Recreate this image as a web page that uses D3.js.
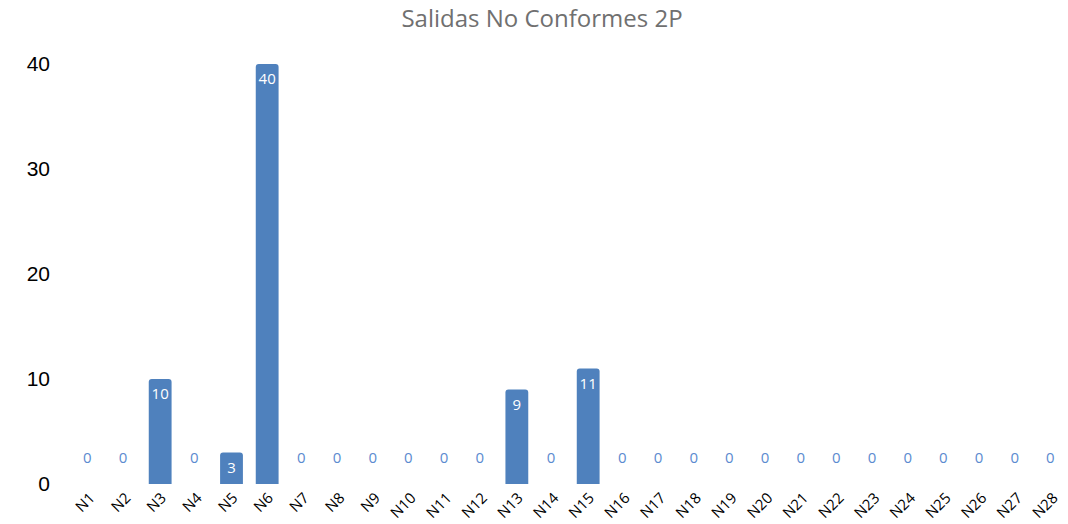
<!DOCTYPE html>
<html>
<head>
<meta charset="utf-8">
<script src="https://cdn.jsdelivr.net/npm/d3@7"></script>
<style>
  body { margin: 0; background: #fff; }
  text { font-family: "Liberation Sans", Arial, sans-serif; }
</style>
</head>
<body>
<svg width="1068" height="524"></svg>
<script>
var categories = d3.range(1, 29).map(function(i) { return "N" + i; });
var values = [0, 0, 10, 0, 3, 40, 0, 0, 0, 0, 0, 0, 9, 0, 11, 0, 0, 0, 0, 0, 0, 0, 0, 0, 0, 0, 0, 0];
var yTicks = [0, 10, 20, 30, 40];
var title = "Salidas No Conformes 2P";

var data = categories.map(function(c, i) { return {name: c, value: values[i]}; });

var svg = d3.select("svg"),
    width = +svg.attr("width"),
    height = +svg.attr("height");

var x = d3.scaleBand()
    .domain(categories)
    .range([71, 1069.7])
    .paddingInner(0.36)
    .paddingOuter(0.18);

var y = d3.scaleLinear()
    .domain([0, 40])
    .range([484, 64]);

var barColor = "#4f81bd";

svg.append("text")
    .attr("x", 542)
    .attr("y", 27)
    .attr("text-anchor", "middle")
    .attr("fill", "#707070")
    .style("font-family", "'Open Sans', 'Noto Sans', sans-serif")
    .style("font-size", "24px")
    .text(title);

// y axis, labels only
var yAxis = svg.append("g")
    .attr("transform", "translate(50,0)")
    .call(d3.axisLeft(y).tickValues(yTicks).tickSize(0).tickPadding(0));
yAxis.select(".domain").remove();
yAxis.selectAll("text")
    .attr("fill", "#000")
    .attr("dy", "0.3em")
    .style("font-size", "21px")
    .style("font-family", "'Liberation Sans', Arial, sans-serif");

// bars with rounded top corners
function barPath(d) {
  var x0 = x(d.name), w = x.bandwidth(), y0 = y(0), y1 = y(d.value), r = 3;
  if (d.value === 0) return "";
  return "M" + x0 + "," + y0 +
    "V" + (y1 + r) +
    "Q" + x0 + "," + y1 + " " + (x0 + r) + "," + y1 +
    "H" + (x0 + w - r) +
    "Q" + (x0 + w) + "," + y1 + " " + (x0 + w) + "," + (y1 + r) +
    "V" + y0 + "Z";
}

svg.selectAll(".bar")
    .data(data)
    .enter().append("path")
      .attr("class", "bar")
      .attr("d", barPath)
      .attr("fill", barColor);

// value labels
svg.selectAll(".label")
    .data(data)
    .enter().append("text")
      .attr("class", "label")
      .attr("x", function(d) { return x(d.name) + x.bandwidth() / 2 - (d.value === 0 ? 1.5 : 0); })
      .attr("y", function(d) { return d.value === 0 ? y(0) - 21 : y(d.value) + 20; })
      .attr("text-anchor", "middle")
      .attr("fill", function(d) { return d.value === 0 ? "#5b8bd0" : "#fff"; })
      .style("font-family", "'Open Sans', 'Noto Sans', sans-serif")
      .style("font-size", "15px")
      .text(function(d) { return d.value; });

// x axis labels, rotated
var xAxis = svg.append("g")
    .attr("transform", "translate(0,484)")
    .call(d3.axisBottom(x).tickSize(0).tickPadding(0));
xAxis.select(".domain").remove();
xAxis.selectAll("text")
    .attr("fill", "#000")
    .attr("text-anchor", "end")
    .attr("dy", null)
    .attr("y", null)
    .attr("transform", "translate(7,15) rotate(-45)")
    .style("font-size", "15px")
    .style("font-family", "'Open Sans', 'Noto Sans', sans-serif");
</script>
</body>
</html>
